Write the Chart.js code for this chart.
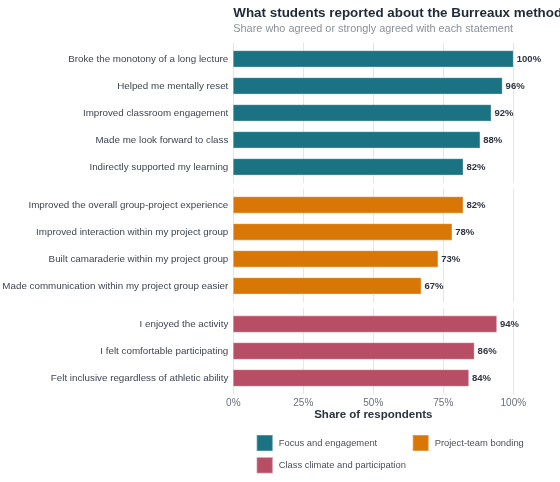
<!DOCTYPE html>
<html>
<head>
<meta charset="utf-8">
<script src="https://cdn.jsdelivr.net/npm/chart.js@4.4.1/dist/chart.umd.min.js"></script>
<style>
  html, body { margin: 0; padding: 0; background: #ffffff; }
  #wrap { width: 560px; height: 482px; }
</style>
</head>
<body>
<div id="wrap"><canvas id="c" width="560" height="482"></canvas></div>
<script>
// ---------------- DATA ----------------
const focusLabels = [
  "Broke the monotony of a long lecture",
  "Helped me mentally reset",
  "Improved classroom engagement",
  "Made me look forward to class",
  "Indirectly supported my learning"
];
const focusValues = [100, 96, 92, 88, 82];

const teamLabels = [
  "Improved the overall group-project experience",
  "Improved interaction within my project group",
  "Built camaraderie within my project group",
  "Made communication within my project group easier"
];
const teamValues = [82, 78, 73, 67];

const climateLabels = [
  "I enjoyed the activity",
  "I felt comfortable participating",
  "Felt inclusive regardless of athletic ability"
];
const climateValues = [94, 86, 84];

const groupNames = ["Focus and engagement", "Project-team bonding", "Class climate and participation"];
const xTickValues = [0, 25, 50, 75, 100];

const titleText = "What students reported about the Burreaux method";
const subtitleText = "Share who agreed or strongly agreed with each statement";
const xTitleText = "Share of respondents";

// ---------------- LAYOUT HELPERS ----------------
const FONT = "'Liberation Sans', Arial, Helvetica, sans-serif";
const EXPAND = 0.6;      // panel expansion in category units
const GAP_UNITS = 0.21;  // space between panels in category units
const colors = ["#1a7282", "#d97706", "#b84e65"];
const borderColors = ["#5c9ba6", "#e5a05a", "#cd8292"];

const groups = [
  { labels: focusLabels, values: focusValues },
  { labels: teamLabels, values: teamValues },
  { labels: climateLabels, values: climateValues }
];

// positions on a continuous y scale (faceted panel layout)
let cursor = 0;
const tickPositions = [];
const tickTexts = [];
groups.forEach((g) => {
  g.positions = g.labels.map((_, i) => cursor + i);
  g.start = cursor;
  g.end = cursor + g.labels.length - 1;
  g.positions.forEach((p, i) => { tickPositions.push(p); tickTexts.push(g.labels[i]); });
  cursor = g.end + 2 * EXPAND + GAP_UNITS;
});
const yMin = -EXPAND;
const yMax = groups[groups.length - 1].end + EXPAND;

const datasets = groups.map((g, gi) => ({
  label: groupNames[gi],
  data: g.values.map((v, i) => ({ x: v, y: g.positions[i] })),
  backgroundColor: colors[gi],
  borderColor: borderColors[gi],
  borderWidth: 0.8,
  borderSkipped: false,
  barThickness: 16.2,
  grouped: false
}));

// ---------------- PLUGINS ----------------
const panelGrid = {
  id: 'panelGrid',
  beforeDatasetsDraw(chart) {
    const { ctx, scales: { x, y } } = chart;
    ctx.save();
    ctx.strokeStyle = '#e6e6e6';
    ctx.lineWidth = 1;
    groups.forEach(g => {
      const top = y.getPixelForValue(g.start - EXPAND);
      const bot = y.getPixelForValue(g.end + EXPAND);
      xTickValues.forEach(v => {
        const px = Math.round(x.getPixelForValue(v)) + 0.5;
        ctx.beginPath();
        ctx.moveTo(px, top);
        ctx.lineTo(px, bot);
        ctx.stroke();
      });
    });
    ctx.restore();
  }
};

const valueLabels = {
  id: 'valueLabels',
  afterDatasetsDraw(chart) {
    const { ctx } = chart;
    ctx.save();
    ctx.font = "bold 9.5px " + FONT;
    ctx.fillStyle = '#2e3440';
    ctx.textAlign = 'left';
    ctx.textBaseline = 'middle';
    chart.data.datasets.forEach((ds, di) => {
      const meta = chart.getDatasetMeta(di);
      meta.data.forEach((el, i) => {
        ctx.fillText(ds.data[i].x + '%', el.x + 3.5, el.y + 0.5);
      });
    });
    ctx.restore();
  }
};

const headings = {
  id: 'headings',
  afterDraw(chart) {
    const { ctx, chartArea } = chart;
    ctx.save();
    ctx.textAlign = 'left';
    ctx.textBaseline = 'alphabetic';
    ctx.fillStyle = '#1f2937';
    ctx.font = "bold 13.4px " + FONT;
    ctx.fillText(titleText, chartArea.left, 16.6);
    ctx.fillStyle = '#8b9099';
    ctx.font = "10.9px " + FONT;
    ctx.fillText(subtitleText, chartArea.left, 32);
    ctx.restore();
  }
};

const customLegend = {
  id: 'customLegend',
  afterDraw(chart) {
    const { ctx } = chart;
    const slots = [
      { x: 256.7, y: 435 },
      { x: 412.7, y: 435 },
      { x: 256.7, y: 457.3 }
    ];
    ctx.save();
    chart.data.datasets.forEach((ds, i) => {
      const s = slots[i];
      ctx.fillStyle = ds.borderColor;
      ctx.fillRect(s.x, s.y, 16, 16);
      ctx.fillStyle = ds.backgroundColor;
      ctx.fillRect(s.x + 0.8, s.y + 0.8, 14.4, 14.4);
      ctx.fillStyle = '#4b5058';
      ctx.font = "9.4px " + FONT;
      ctx.textAlign = 'left';
      ctx.textBaseline = 'middle';
      ctx.fillText(ds.label, s.x + 22, s.y + 8.3);
    });
    ctx.restore();
  }
};

// ---------------- CHART ----------------
new Chart(document.getElementById('c'), {
  type: 'bar',
  data: { datasets },
  options: {
    responsive: false,
    animation: false,
    indexAxis: 'y',
    layout: { padding: { top: 42.7, left: 0, right: 46.7, bottom: 57.8 } },
    plugins: {
      legend: { display: false },
      tooltip: { enabled: false },
      title: { display: false }
    },
    scales: {
      x: {
        type: 'linear',
        min: 0,
        max: 100,
        offset: false,
        afterBuildTicks(scale) { scale.ticks = xTickValues.map(v => ({ value: v })); },
        grid: { display: false, drawTicks: false, offset: false },
        border: { display: false },
        ticks: {
          autoSkip: false,
          padding: 3,
          color: '#6b7079',
          font: { family: FONT, size: 10 },
          callback: v => v + '%'
        },
        title: {
          display: true,
          text: xTitleText,
          color: '#2b3340',
          font: { family: FONT, size: 11.5, weight: 'bold' },
          padding: { top: 0, bottom: 2 }
        },
        afterFit(scale) { scale.height = 30; }
      },
      y: {
        type: 'linear',
        reverse: true,
        min: yMin,
        max: yMax,
        offset: false,
        afterBuildTicks(scale) { scale.ticks = tickPositions.map(v => ({ value: v })); },
        grid: { display: false, drawTicks: false, offset: false },
        border: { display: false },
        ticks: {
          autoSkip: false,
          padding: 5,
          color: '#3f4550',
          font: { family: FONT, size: 9.8 },
          callback: (v) => {
            const idx = tickPositions.findIndex(p => Math.abs(p - v) < 1e-6);
            return idx >= 0 ? tickTexts[idx] : '';
          }
        },
        afterFit(scale) { scale.width = 233.3; }
      }
    }
  },
  plugins: [panelGrid, valueLabels, headings, customLegend]
});
</script>
</body>
</html>
